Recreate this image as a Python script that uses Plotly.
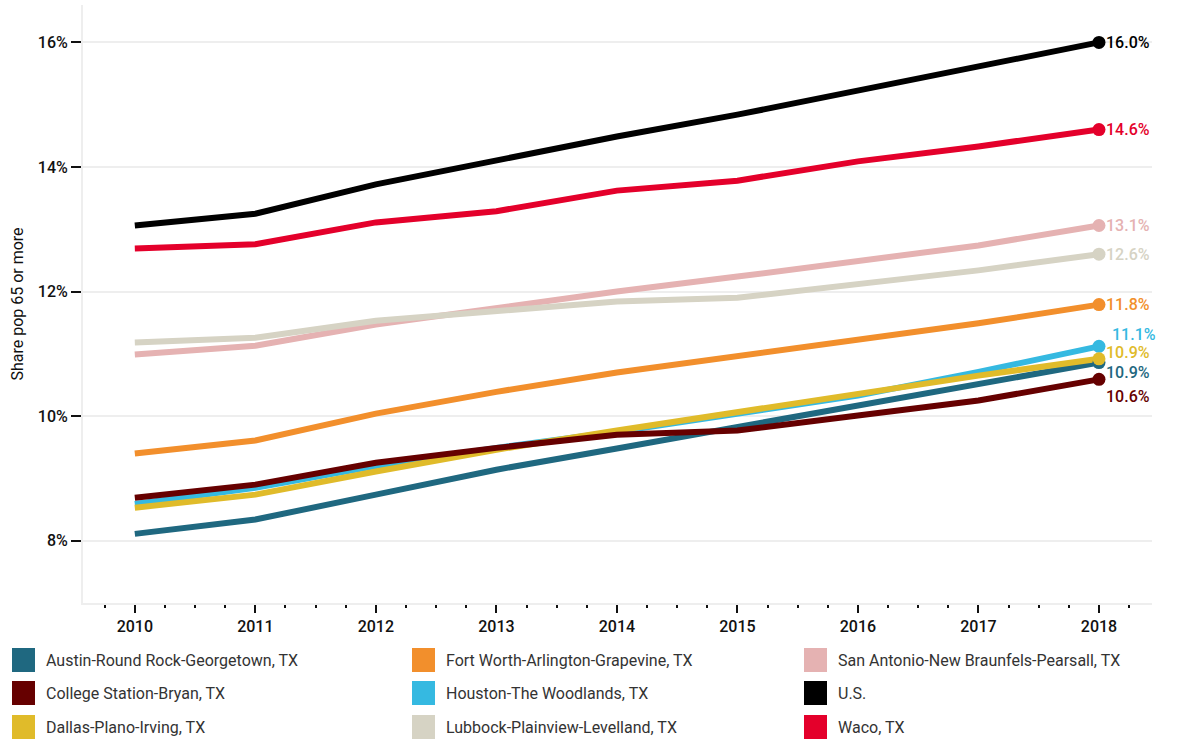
import plotly.graph_objects as go

years = [2010, 2011, 2012, 2013, 2014, 2015, 2016, 2017, 2018]

austin = [8.11, 8.34, 8.74, 9.14, 9.48, 9.82, 10.17, 10.51, 10.86]
college_station = [8.69, 8.90, 9.25, 9.49, 9.70, 9.77, 10.01, 10.25, 10.59]
dallas = [8.53, 8.74, 9.11, 9.46, 9.77, 10.07, 10.35, 10.65, 10.92]
fort_worth = [9.40, 9.61, 10.04, 10.39, 10.70, 10.97, 11.24, 11.49, 11.79]
houston = [8.59, 8.85, 9.20, 9.49, 9.75, 10.04, 10.33, 10.71, 11.12]
lubbock = [11.18, 11.26, 11.53, 11.69, 11.84, 11.90, 12.13, 12.34, 12.60]
san_antonio = [10.99, 11.13, 11.47, 11.74, 12.00, 12.24, 12.50, 12.74, 13.06]
us = [13.06, 13.25, 13.72, 14.10, 14.49, 14.84, 15.23, 15.60, 16.00]
waco = [12.69, 12.76, 13.11, 13.29, 13.62, 13.78, 14.09, 14.33, 14.60]

names = [
    "Austin-Round Rock-Georgetown, TX",
    "College Station-Bryan, TX",
    "Dallas-Plano-Irving, TX",
    "Fort Worth-Arlington-Grapevine, TX",
    "Houston-The Woodlands, TX",
    "Lubbock-Plainview-Levelland, TX",
    "San Antonio-New Braunfels-Pearsall, TX",
    "U.S.",
    "Waco, TX",
]
series = [austin, college_station, dallas, fort_worth, houston, lubbock, san_antonio, us, waco]
colors = ["#1f6880", "#660000", "#e0bb2a", "#f28f2c", "#35b9e1", "#d6d3c4", "#e5b2b2", "#000000", "#e4002b"]

# drawing order (index into series) and label offsets (px)
draw_order = [0, 4, 2, 1, 3, 6, 5, 8, 7]
label_yshift = {0: -10, 1: -17, 2: 6, 3: 0, 4: 12, 5: 0, 6: 0, 7: 0, 8: 0}
label_xshift = {4: 6}

FONT = "Roboto"
W, H = 1181, 740
ML, MR, MT, MB = 83, 29, 5, 137
PW, PH = W - ML - MR, H - MT - MB

fig = go.Figure()
for i in draw_order:
    fig.add_trace(go.Scatter(
        x=years, y=series[i], mode="lines", name=names[i],
        line=dict(color=colors[i], width=6), showlegend=False, hoverinfo="skip"))
for i in draw_order:
    fig.add_trace(go.Scatter(
        x=[years[-1]], y=[series[i][-1]], mode="markers",
        marker=dict(color=colors[i], size=13), showlegend=False, hoverinfo="skip"))

annotations = []
for i in range(len(series)):
    annotations.append(dict(
        x=years[-1], y=series[i][-1], xref="x", yref="y",
        text=f"{series[i][-1]:.1f}%", showarrow=False, xanchor="left", yanchor="middle",
        xshift=5 + label_xshift.get(i, 0), yshift=label_yshift[i],
        font=dict(family=FONT, size=16, color=colors[i], weight=500)))

# manual legend (3 columns, column-major)
def px(xp):
    return (xp - ML) / PW
def py(yp):
    return (H - MB - yp) / PH

col_x = [12, 412, 804]
row_y = [660, 693, 727]
shapes = []
for k, name in enumerate(names):
    c, r = k // 3, k % 3
    x0, yc = col_x[c], row_y[r]
    shapes.append(dict(type="rect", xref="paper", yref="paper",
                       x0=px(x0), x1=px(x0 + 23), y0=py(yc - 12), y1=py(yc + 12),
                       fillcolor=colors[k], line=dict(width=0)))
    annotations.append(dict(x=px(x0 + 32), y=py(yc), xref="paper", yref="paper",
                            text=name, showarrow=False, xanchor="left", yanchor="middle",
                            font=dict(family=FONT, size=16, color="#333333")))

fig.update_layout(
    width=W, height=H,
    margin=dict(l=ML, r=MR, t=MT, b=MB),
    paper_bgcolor="white", plot_bgcolor="white",
    font=dict(family=FONT, color="#111111"),
    shapes=shapes, annotations=annotations,
    showlegend=False,
    xaxis=dict(range=[2009.57, 2018.44], tickvals=years, ticktext=[str(y) for y in years],
               showgrid=False, zeroline=False, showline=True, linecolor="#eeeeee", linewidth=2,
               ticks="outside", ticklen=8, tickcolor="#111111", tickwidth=2,
               tickfont=dict(family=FONT, size=16, color="#111111", weight=500),
               minor=dict(dtick=0.25, tick0=2010, ticks="outside", ticklen=3, tickcolor="#111111", tickwidth=2)),
    yaxis=dict(range=[7.0, 16.6], tickvals=[8, 10, 12, 14, 16],
               ticktext=["8%", "10%", "12%", "14%", "16%"],
               showgrid=True, gridcolor="#eeeeee", gridwidth=2,
               zeroline=False, showline=True, linecolor="#eeeeee", linewidth=2,
               ticks="outside", ticklen=10, tickcolor="#111111", tickwidth=2,
               tickfont=dict(family=FONT, size=16, color="#111111", weight=500),
               title=dict(text="Share pop 65 or more", font=dict(family=FONT, size=16, color="#111111"),
                          standoff=10)),
)

fig.write_html("out.html")
